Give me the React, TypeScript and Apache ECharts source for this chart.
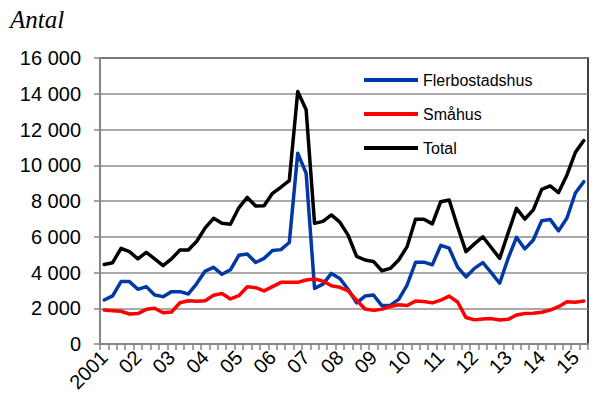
import React, { useEffect, useRef } from "react";
import * as echarts from "echarts";

const yearLabels = ["2001", "02", "03", "04", "05", "06", "07", "08", "09", "10", "11", "12", "13", "14", "15"];
const categories = yearLabels
  .flatMap((y) => ["K1", "K2", "K3", "K4"].map((q) => `${y} ${q}`))
  .slice(0, 58);

const flerbostadshus = [
  2460, 2690, 3490, 3490, 3060, 3210, 2740, 2650, 2930, 2930, 2800, 3380,
  4080, 4290, 3900, 4150, 4960, 5040, 4560, 4790, 5230, 5280, 5680, 10670,
  9550, 3110, 3350, 3950, 3670, 3050, 2300, 2680, 2740, 2150, 2160, 2500,
  3300, 4570, 4580, 4430, 5520, 5360, 4300, 3750, 4230, 4550, 3990, 3400,
  4780, 5970, 5320, 5820, 6900, 6970, 6330, 7050, 8450, 9080,
];
const smahus = [
  1900, 1865, 1830, 1680, 1700, 1940, 2000, 1750, 1790, 2310, 2420, 2390,
  2420, 2730, 2820, 2520, 2700, 3200, 3150, 2970, 3210, 3450, 3450, 3450,
  3580, 3640, 3520, 3260, 3170, 2970, 2450, 1960, 1880, 1950, 2100, 2200,
  2150, 2400, 2380, 2300, 2450, 2680, 2350, 1480, 1350, 1400, 1420, 1340,
  1380, 1620, 1710, 1720, 1780, 1900, 2090, 2370, 2330, 2400,
];
const total = [
  4450, 4550, 5350, 5170, 4760, 5130, 4760, 4380, 4760, 5260, 5260, 5750,
  6500, 7030, 6750, 6700, 7620, 8200, 7720, 7740, 8430, 8770, 9140, 14120,
  13100, 6750, 6860, 7220, 6820, 6080, 4900, 4700, 4620, 4100, 4230, 4700,
  5450, 6980, 6980, 6720, 7960, 8060, 6560, 5170, 5600, 6000, 5400, 4790,
  6200, 7590, 6990, 7500, 8650, 8840, 8470, 9460, 10720, 11380,
];
const seriesNames = ["Flerbostadshus", "Småhus", "Total"];
const seriesColors = ["#0039A6", "#FF0000", "#000000"];

export default function App() {
  const ref = useRef<HTMLDivElement>(null);
  useEffect(() => {
    if (!ref.current) return;
    const chart = echarts.init(ref.current, null, { renderer: "svg" });
    const font = "Liberation Sans";
    const fmt = (v: number) =>
      String(v).replace(/\B(?=(\d{3})+(?!\d))/g, " ");
    chart.setOption({
      animation: false,
      backgroundColor: "#ffffff",
      graphic: [
        {
          type: "text",
          left: 10,
          top: 7,
          style: {
            text: "Antal",
            font: 'italic 25px "Liberation Serif"',
            fill: "#000",
          },
        },
      ],
      legend: {
        data: seriesNames,
        orient: "vertical",
        left: 364,
        top: 72,
        padding: 0,
        itemWidth: 54,
        itemHeight: 4,
        itemGap: 18,
        icon: "rect",
        textStyle: { fontSize: 16, fontFamily: font, color: "#000" },
      },
      grid: {
        left: 100,
        right: 8,
        top: 58,
        bottom: 57,
        show: true,
        borderColor: "#000",
        borderWidth: 1.5,
      },
      xAxis: {
        type: "category",
        data: categories,
        boundaryGap: true,
        axisLine: { show: true, lineStyle: { color: "#868686", width: 2 } },
        axisTick: {
          show: true,
          interval: 0,
          length: 6,
          lineStyle: { color: "#868686", width: 1.5 },
        },
        axisLabel: {
          interval: 3,
          rotate: 45,
          margin: 10,
          fontSize: 20,
          fontFamily: font,
          color: "#000",
          formatter: (_v: string, idx: number) =>
            idx % 4 === 0 ? yearLabels[idx / 4] : "",
        },
        splitLine: { show: false },
      },
      yAxis: {
        type: "value",
        min: 0,
        max: 16000,
        interval: 2000,
        axisLine: { show: true, lineStyle: { color: "#868686", width: 2 } },
        axisTick: {
          show: true,
          length: 6,
          lineStyle: { color: "#868686", width: 1.5 },
        },
        axisLabel: {
          margin: 19,
          fontSize: 20,
          fontFamily: font,
          color: "#000",
          formatter: fmt,
        },
        splitLine: { show: true, lineStyle: { color: "#8c8c8c", width: 1.5 } },
      },
      series: [flerbostadshus, smahus, total].map((d, i) => ({
        name: seriesNames[i],
        type: "line",
        data: d,
        symbol: "none",
        color: seriesColors[i],
        lineStyle: {
          color: seriesColors[i],
          width: 3.5,
          cap: "round",
          join: "round",
        },
      })),
    });
    return () => chart.dispose();
  }, []);
  return (
    <div
      ref={ref}
      style={{ position: "fixed", left: 0, top: 0, width: 596, height: 401 }}
    />
  );
}
